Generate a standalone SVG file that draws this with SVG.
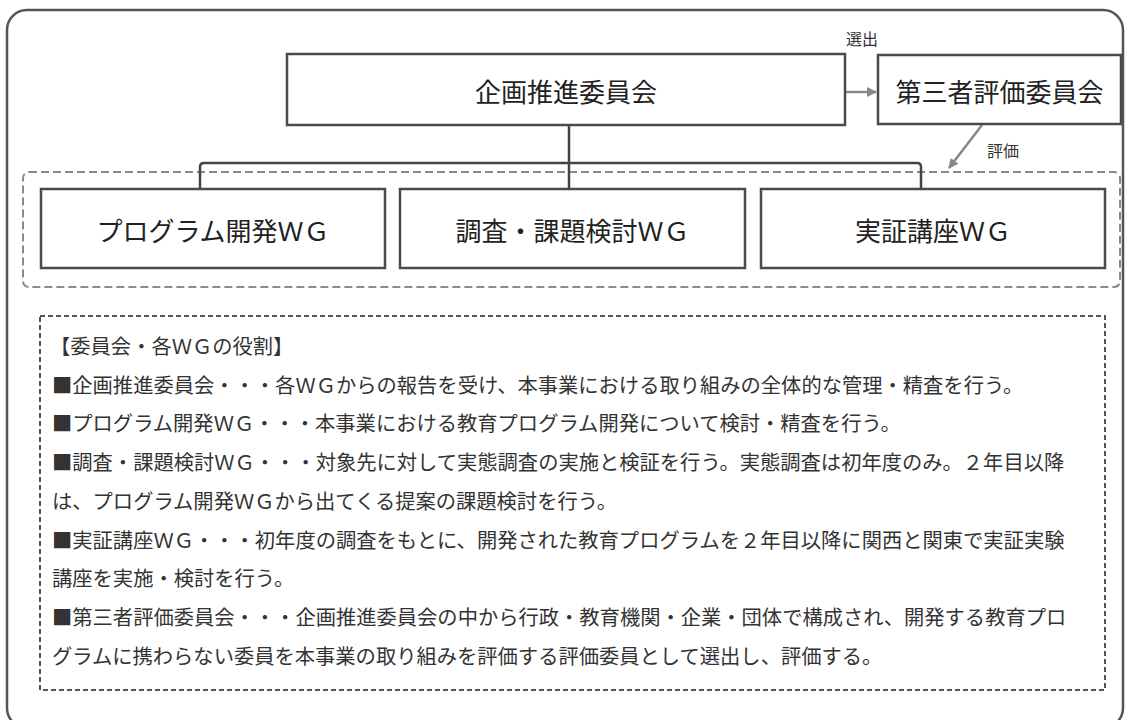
<svg xmlns="http://www.w3.org/2000/svg" width="1130" height="720" viewBox="0 0 1130 720">
<defs>
<style>
.frame{fill:none;stroke:#555;stroke-width:2.5}
.box{fill:#fff;stroke:#4a4a4a;stroke-width:2.5}
.grp{fill:none;stroke:#8a8a8a;stroke-width:2;stroke-dasharray:8 4}
.note{fill:none;stroke:#555;stroke-width:2;stroke-dasharray:5 3}
.conn{fill:none;stroke:#444;stroke-width:2.5}
.arr{fill:none;stroke:#888;stroke-width:2.5}
.t{font-family:"Noto Sans CJK JP","Noto Sans",sans-serif;fill:#222;text-anchor:middle;dominant-baseline:central}
.big{font-size:26px}
.lbl{font-size:16px;fill:#333}
.line{font-family:"Noto Sans CJK JP","Noto Sans",sans-serif;font-size:20.3px;fill:#333;dominant-baseline:central}
</style>
<marker id="ah" viewBox="0 0 10 10" refX="9" refY="5" markerWidth="4" markerHeight="4" orient="auto" markerUnits="strokeWidth">
<path d="M0,0 L10,5 L0,10 z" fill="#888"/>
</marker>
</defs>
<rect class="frame" x="7" y="10" width="1116" height="718" rx="20" ry="20"/>
<rect id="wg-group" class="grp" x="23" y="172" width="1097" height="115" rx="6" ry="6"/>
<g id="connectors">
<path class="conn" d="M569,125 V189"/>
<path class="conn" d="M200,189 V167 Q200,163 204,163 H917 Q921,163 921,167 V189"/>
<path class="arr" d="M845,92 H876" marker-end="url(#ah)"/>
<text class="t lbl" x="862" y="38">選出</text>
<path class="arr" d="M982,125 L949,168" marker-end="url(#ah)"/>
<text class="t lbl" x="1003" y="150">評価</text>
</g>
<g id="kikaku">
<rect class="box" x="287" y="54" width="558" height="71"/>
<text class="t big" x="566" y="90">企画推進委員会</text>
</g>
<g id="daisansha">
<rect class="box" x="878" y="55" width="243" height="69"/>
<text class="t big" x="999.5" y="90">第三者評価委員会</text>
</g>
<g id="wg-program">
<rect class="box" x="41" y="189" width="344" height="79"/>
<text class="t big" x="213" y="229">プログラム開発ＷＧ</text>
</g>
<g id="wg-chousa">
<rect class="box" x="400" y="189" width="345" height="79"/>
<text class="t big" x="572.5" y="229">調査・課題検討ＷＧ</text>
</g>
<g id="wg-jissho">
<rect class="box" x="761" y="189" width="344" height="79"/>
<text class="t big" x="933" y="229">実証講座ＷＧ</text>
</g>
<g id="roles">
<rect class="note" x="40" y="316" width="1065" height="374"/>
<text class="line" x="50" y="345">【委員会・各ＷＧの役割】</text>
<text class="line" x="52" y="384">■企画推進委員会・・・各ＷＧからの報告を受け、本事業における取り組みの全体的な管理・精査を行う。</text>
<text class="line" x="52" y="422">■プログラム開発ＷＧ・・・本事業における教育プログラム開発について検討・精査を行う。</text>
<text class="line" x="52" y="461">■調査・課題検討ＷＧ・・・対象先に対して実態調査の実施と検証を行う。実態調査は初年度のみ。２年目以降</text>
<text class="line" x="52" y="500">は、プログラム開発ＷＧから出てくる提案の課題検討を行う。</text>
<text class="line" x="52" y="539">■実証講座ＷＧ・・・初年度の調査をもとに、開発された教育プログラムを２年目以降に関西と関東で実証実験</text>
<text class="line" x="52" y="577">講座を実施・検討を行う。</text>
<text class="line" x="52" y="616">■第三者評価委員会・・・企画推進委員会の中から行政・教育機関・企業・団体で構成され、開発する教育プロ</text>
<text class="line" x="52" y="655">グラムに携わらない委員を本事業の取り組みを評価する評価委員として選出し、評価する。</text>
</g>
</svg>
